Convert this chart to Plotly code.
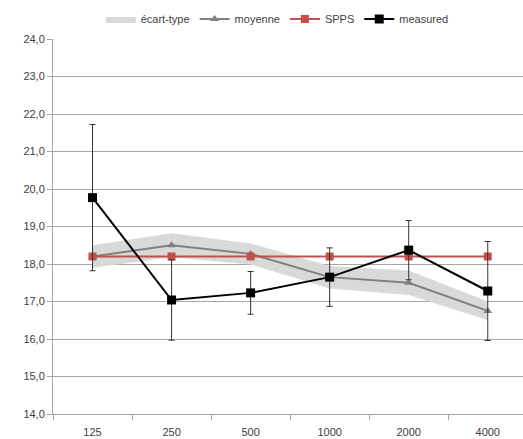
import plotly.graph_objects as go

categories = ["125", "250", "500", "1000", "2000", "4000"]
moyenne = [18.2, 18.5, 18.27, 17.65, 17.5, 16.75]
ecart_type = [0.3, 0.32, 0.28, 0.3, 0.33, 0.25]
spps = [18.2, 18.2, 18.2, 18.2, 18.2, 18.2]
measured = [19.77, 17.04, 17.23, 17.65, 18.37, 17.28]
measured_err = [1.95, 1.07, 0.57, 0.78, 0.79, 1.32]

upper = [m + s for m, s in zip(moyenne, ecart_type)]
lower = [m - s for m, s in zip(moyenne, ecart_type)]

font_family = "Liberation Sans, Arial, sans-serif"
fig = go.Figure()

fig.add_trace(go.Scatter(
    x=categories + categories[::-1],
    y=upper + lower[::-1],
    fill="toself",
    fillcolor="#D9D9D9",
    line=dict(width=0, color="#D9D9D9"),
    mode="lines",
    name="écart-type",
    hoverinfo="skip",
))
fig.add_trace(go.Scatter(
    x=categories, y=moyenne, mode="lines+markers", name="moyenne",
    line=dict(color="#808080", width=2),
    marker=dict(symbol="triangle-up", size=8, color="#808080"),
))
fig.add_trace(go.Scatter(
    x=categories, y=spps, mode="lines+markers", name="SPPS",
    line=dict(color="#C0504D", width=2),
    marker=dict(symbol="square", size=8, color="#C0504D"),
))
fig.add_trace(go.Scatter(
    x=categories, y=measured, mode="lines+markers", name="measured",
    line=dict(color="#000000", width=2),
    marker=dict(symbol="square", size=9, color="#000000"),
    error_y=dict(type="data", array=measured_err, visible=True,
                 color="#333333", thickness=1, width=3),
))

fig.update_layout(
    width=523, height=439,
    margin=dict(l=53, r=0, t=39, b=25),
    paper_bgcolor="white", plot_bgcolor="white",
    separators=", ",
    font=dict(family=font_family, size=11, color="#404040"),
    showlegend=True,
    legend=dict(
        orientation="h", xref="container", yref="container",
        x=0.53, xanchor="center", y=1 - 19 / 439, yanchor="middle",
        font=dict(size=11, color="#404040"),
        itemwidth=30, tracegroupgap=0,
        bgcolor="rgba(0,0,0,0)",
    ),
    xaxis=dict(
        type="category",
        range=[-0.5, 5.446],
        showgrid=False,
        showline=True, linecolor="#A6A6A6", linewidth=1,
        ticks="outside", tickson="boundaries", ticklen=5, tickcolor="#A6A6A6",
        ticklabelstandoff=8,
        tickfont=dict(size=11, color="#404040"),
        fixedrange=True,
    ),
    yaxis=dict(
        range=[14, 24],
        dtick=1,
        tickformat=".1f",
        showgrid=True, gridcolor="#A6A6A6", gridwidth=1,
        showline=True, linecolor="#A6A6A6", linewidth=1,
        ticks="outside", ticklen=5, tickcolor="#A6A6A6",
        tickfont=dict(size=11, color="#404040"),
        zeroline=False,
    ),
)

fig.write_html("out.html")
